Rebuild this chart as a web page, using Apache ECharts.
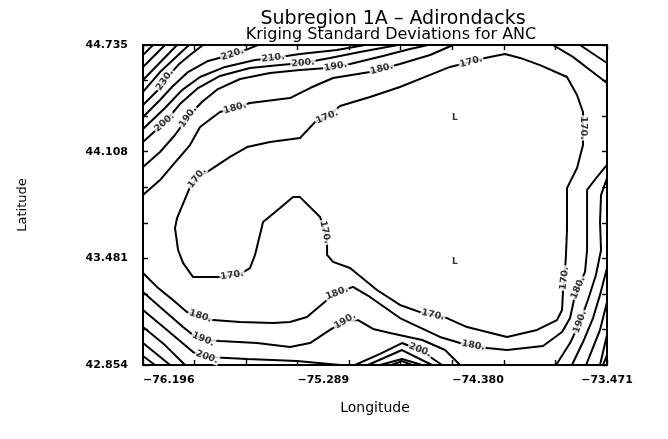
<!DOCTYPE html>
<html>
<head>
<meta charset="utf-8">
<script src="https://cdn.jsdelivr.net/npm/echarts@6/dist/echarts.min.js"></script>
<style>
  html, body { margin: 0; padding: 0; background: #fff; }
  #chart { width: 668px; height: 439px; }
</style>
</head>
<body>
<div id="chart"></div>
<script>
// tick labels
var xTickLabels = ['-76.196', '-75.289', '-74.380', '-73.471'];
var yTickLabels = ['42.854', '43.481', '44.108', '44.735'];

// contour lines, [longitude, latitude]
// upper-left corner
var c270 = [[-76.196, 44.676], [-76.137, 44.735]];
var c260 = [[-76.196, 44.606], [-76.067, 44.735]];
var c250 = [[-76.196, 44.529], [-75.996, 44.735]];
var c240 = [[-76.196, 44.459], [-76.096, 44.576], [-75.926, 44.735]];
var c230a = [[-76.196, 44.382], [-76.108, 44.470], [-76.067, 44.529], [-75.990, 44.617], [-75.920, 44.676], [-75.844, 44.735]];
var c220a = [[-76.196, 44.312], [-76.096, 44.412], [-76.026, 44.488], [-75.932, 44.576], [-75.814, 44.641], [-75.685, 44.676], [-75.580, 44.711], [-75.521, 44.735]];
var c210a = [[-76.196, 44.241], [-76.067, 44.365], [-75.967, 44.470], [-75.861, 44.547], [-75.714, 44.606], [-75.538, 44.647], [-75.432, 44.659], [-75.274, 44.682], [-75.057, 44.706], [-74.892, 44.735]];
var c200a = [[-76.196, 44.165], [-76.067, 44.282], [-75.979, 44.388], [-75.873, 44.482], [-75.744, 44.553], [-75.568, 44.600], [-75.391, 44.617], [-75.256, 44.629], [-75.098, 44.659], [-74.922, 44.694], [-74.699, 44.735]];
var c190a = [[-76.196, 44.018], [-76.096, 44.106], [-76.008, 44.206], [-75.932, 44.312], [-75.850, 44.400], [-75.756, 44.476], [-75.626, 44.535], [-75.450, 44.570], [-75.274, 44.588], [-75.115, 44.600], [-74.980, 44.623], [-74.787, 44.670], [-74.628, 44.711], [-74.522, 44.735]];
var c180a = [[-76.196, 43.853], [-76.096, 43.941], [-76.020, 44.030], [-75.920, 44.147], [-75.861, 44.253], [-75.744, 44.341], [-75.656, 44.365], [-75.568, 44.394], [-75.333, 44.423], [-75.215, 44.482], [-75.080, 44.541], [-74.863, 44.576], [-74.687, 44.623], [-74.510, 44.676], [-74.375, 44.735]];
// upper-right corner
var c180b = [[-73.788, 44.735], [-73.671, 44.665], [-73.571, 44.588], [-73.471, 44.512]];
var c190b = [[-73.630, 44.735], [-73.471, 44.629]];
// closed 170 loop
var c170 = [[-75.803, 44.000], [-75.685, 44.077], [-75.585, 44.135], [-75.450, 44.165], [-75.274, 44.188], [-75.186, 44.282], [-75.115, 44.312], [-75.039, 44.376], [-74.863, 44.429], [-74.687, 44.488], [-74.510, 44.559], [-74.393, 44.606], [-74.276, 44.635], [-74.187, 44.659], [-74.070, 44.682], [-73.982, 44.659], [-73.864, 44.617], [-73.706, 44.547], [-73.647, 44.441], [-73.612, 44.341], [-73.612, 44.247], [-73.612, 44.147], [-73.647, 44.012], [-73.706, 43.894], [-73.706, 43.648], [-73.712, 43.501], [-73.718, 43.395], [-73.729, 43.295], [-73.735, 43.177], [-73.765, 43.118], [-73.882, 43.060], [-74.058, 43.019], [-74.293, 43.077], [-74.411, 43.130], [-74.569, 43.165], [-74.687, 43.207], [-74.822, 43.295], [-74.980, 43.424], [-75.080, 43.460], [-75.115, 43.501], [-75.115, 43.577], [-75.127, 43.636], [-75.156, 43.724], [-75.274, 43.841], [-75.315, 43.841], [-75.391, 43.777], [-75.491, 43.695], [-75.538, 43.501], [-75.568, 43.424], [-75.626, 43.389], [-75.744, 43.371], [-75.902, 43.371], [-75.961, 43.454], [-75.990, 43.530], [-76.008, 43.659], [-75.996, 43.718], [-75.920, 43.900], [-75.879, 43.953], [-75.803, 44.000]];
// right side and bottom
var c180c = [[-73.471, 44.030], [-73.530, 43.959], [-73.588, 43.883], [-73.588, 43.530], [-73.600, 43.401], [-73.641, 43.307], [-73.665, 43.236], [-73.688, 43.130], [-73.735, 43.048], [-73.847, 42.966], [-74.058, 42.942], [-74.176, 42.954], [-74.334, 42.983], [-74.452, 43.019], [-74.587, 43.083], [-74.687, 43.130], [-74.863, 43.254], [-74.963, 43.313], [-75.057, 43.277], [-75.115, 43.236], [-75.233, 43.136], [-75.333, 43.107], [-75.432, 43.101], [-75.626, 43.107], [-75.785, 43.118], [-75.938, 43.166], [-76.020, 43.236], [-76.114, 43.313], [-76.196, 43.395]];
var c190c = [[-76.196, 43.283], [-76.096, 43.195], [-75.961, 43.077], [-75.902, 43.030], [-75.832, 43.001], [-75.744, 42.995], [-75.526, 42.983], [-75.333, 42.960], [-75.215, 42.983], [-75.098, 43.060], [-75.010, 43.113], [-74.933, 43.118], [-74.845, 43.066], [-74.745, 43.042], [-74.556, 43.001], [-74.422, 42.942], [-74.334, 42.854]];
var c190d = [[-73.471, 43.953], [-73.506, 43.853], [-73.512, 43.695], [-73.506, 43.530], [-73.536, 43.383], [-73.583, 43.236], [-73.630, 43.107], [-73.688, 42.983], [-73.770, 42.854]];
var c200b = [[-76.196, 43.177], [-76.055, 43.060], [-75.902, 42.930], [-75.820, 42.901], [-75.585, 42.889], [-75.292, 42.877], [-75.039, 42.854]];
var c200c = [[-74.951, 42.854], [-74.804, 42.919], [-74.675, 42.983], [-74.569, 42.942], [-74.440, 42.854]];
var c200d = [[-73.471, 43.424], [-73.512, 43.266], [-73.553, 43.130], [-73.612, 42.989], [-73.677, 42.854]];
var c210b = [[-76.196, 43.077], [-76.067, 42.971], [-75.949, 42.854]];
var c210c = [[-74.875, 42.854], [-74.675, 42.942], [-74.499, 42.854]];
var c210d = [[-73.471, 43.224], [-73.512, 43.060], [-73.559, 42.942], [-73.594, 42.854]];
var c220b = [[-76.196, 42.983], [-76.037, 42.854]];
var c220c = [[-74.804, 42.854], [-74.675, 42.889], [-74.557, 42.854]];
var c220d = [[-73.471, 43.030], [-73.512, 42.854]];
var c230b = [[-76.196, 42.907], [-76.126, 42.854]];
var c230c = [[-74.739, 42.854], [-74.675, 42.877], [-74.616, 42.854]];
var c230d = [[-73.471, 42.913], [-73.494, 42.854]];

var contours = [
  [270, c270], [260, c260], [250, c250], [240, c240], [230, c230a], [220, c220a],
  [210, c210a], [200, c200a], [190, c190a], [180, c180a], [180, c180b], [190, c190b],
  [170, c170], [180, c180c], [190, c190c], [190, c190d],
  [200, c200b], [200, c200c], [200, c200d], [210, c210b], [210, c210c], [210, c210d],
  [220, c220b], [220, c220c], [220, c220d], [230, c230b], [230, c230c], [230, c230d]
];

// contour labels: [longitude, latitude, level]
var labelPts = [
  [-76.067, 44.529, 230], [-75.673, 44.688, 220], [-75.432, 44.659, 210],
  [-75.256, 44.629, 200], [-76.073, 44.282, 200], [-75.932, 44.312, 190],
  [-75.063, 44.600, 190], [-75.656, 44.365, 180], [-74.792, 44.588, 180],
  [-75.879, 43.953, 170], [-75.115, 44.312, 170], [-74.264, 44.617, 170],
  [-73.612, 44.247, 170], [-75.673, 43.383, 170], [-75.121, 43.636, 170],
  [-74.493, 43.148, 170], [-73.729, 43.365, 170], [-75.861, 43.136, 180],
  [-75.057, 43.277, 180], [-74.258, 42.960, 180], [-73.641, 43.307, 180],
  [-75.844, 43.001, 190], [-75.010, 43.113, 190], [-73.630, 43.107, 190],
  [-75.820, 42.901, 200], [-74.569, 42.942, 200]
];

// local minimum marks
var lowPts = [[-74.364, 44.306], [-74.364, 43.460]];

var xMajor = xTickLabels.map(Number);
var yMajor = yTickLabels.map(Number);

function thirds(vals) {
  var out = [];
  for (var i = 0; i < vals.length - 1; i++) {
    var d = (vals[i + 1] - vals[i]) / 3;
    out.push(vals[i], vals[i] + d, vals[i] + 2 * d);
  }
  out.push(vals[vals.length - 1]);
  return out;
}

function pickLabel(list, v) {
  var best = list[0], bd = Infinity;
  list.forEach(function (s) {
    var d = Math.abs(Number(s) - v);
    if (d < bd) { bd = d; best = s; }
  });
  return best.replace('-', '\u2212');
}

var FONT = 'DejaVu Sans';
var chart = echarts.init(document.getElementById('chart'));

function frameAxis(pos, major, labels, isX) {
  return {
    type: 'value',
    position: pos,
    min: major[0],
    max: major[major.length - 1],
    splitLine: { show: false },
    axisLine: { show: true, onZero: false, lineStyle: { color: '#000', width: 2 } },
    axisTick: { show: true, inside: true, length: 5, customValues: thirds(major), lineStyle: { color: '#000', width: 1.4 } },
    axisLabel: labels ? {
      show: true,
      customValues: major,
      color: '#000',
      fontFamily: FONT,
      fontWeight: 'bold',
      fontSize: 11,
      margin: isX ? 10 : 15,
      align: isX ? 'left' : 'right',
      alignMaxLabel: isX ? 'center' : null,
      formatter: function (v) { return pickLabel(labels, v); }
    } : { show: false }
  };
}

var xBottom = frameAxis('bottom', xMajor, xTickLabels, true);
xBottom.name = 'Longitude';
xBottom.nameLocation = 'middle';
xBottom.nameGap = 36;
xBottom.nameTextStyle = { color: '#000', fontFamily: FONT, fontSize: 14 };

var yLeft = frameAxis('left', yMajor, yTickLabels, false);
yLeft.name = 'Latitude';
yLeft.nameLocation = 'middle';
yLeft.nameGap = 114;
yLeft.nameRotate = 90;
yLeft.nameTextStyle = { color: '#000', fontFamily: FONT, fontSize: 13 };

var series = contours.map(function (c) {
  return {
    type: 'line',
    data: c[1],
    symbol: 'none',
    smooth: false,
    silent: true,
    lineStyle: { color: '#000', width: 2 },
    z: 2
  };
});

var labelStyle = {
  show: true,
  position: 'inside',
  formatter: '{b}',
  color: '#000',
  fontFamily: FONT,
  fontWeight: 'bold',
  fontSize: 9.5,
  backgroundColor: '#fff',
  padding: [0, 1]
};

series.push({
  id: 'contourLabels',
  type: 'scatter',
  symbolSize: 0,
  silent: true,
  z: 5,
  label: labelStyle,
  data: labelPts.map(function (p) { return { name: p[2] + '.', value: [p[0], p[1]] }; })
});

series.push({
  type: 'scatter',
  symbolSize: 0,
  silent: true,
  z: 5,
  label: { show: true, position: 'inside', formatter: 'L', color: '#000', fontFamily: FONT, fontWeight: 'bold', fontSize: 9 },
  data: lowPts
});

chart.setOption({
  animation: false,
  backgroundColor: '#fff',
  title: [
    { text: 'Subregion 1A \u2013 Adirondacks', left: 388, top: 5, textAlign: 'center',
      textStyle: { color: '#000', fontFamily: FONT, fontWeight: 'normal', fontSize: 19 } },
    { text: 'Kriging Standard Deviations for ANC', left: 386, top: 22, textAlign: 'center',
      textStyle: { color: '#000', fontFamily: FONT, fontWeight: 'normal', fontSize: 16 } }
  ],
  grid: { left: 143, top: 45, right: 61, bottom: 74, outerBoundsMode: 'none' },
  xAxis: [xBottom, frameAxis('top', xMajor, null, true)],
  yAxis: [yLeft, frameAxis('right', yMajor, null, false)],
  series: series
});

// put every label on its line and turn it along the line
function placeLabels() {
  var finder = { xAxisIndex: 0, yAxisIndex: 0 };
  var data = labelPts.map(function (p) {
    var pt = chart.convertToPixel(finder, [p[0], p[1]]);
    var best = null, bd = Infinity;
    contours.forEach(function (c) {
      if (c[0] !== p[2]) return;
      var px = c[1].map(function (q) { return chart.convertToPixel(finder, q); });
      for (var i = 0; i < px.length - 1; i++) {
        var a = px[i], b = px[i + 1];
        var dx = b[0] - a[0], dy = b[1] - a[1];
        var L2 = dx * dx + dy * dy || 1;
        var t = ((pt[0] - a[0]) * dx + (pt[1] - a[1]) * dy) / L2;
        t = Math.max(0, Math.min(1, t));
        var qx = a[0] + t * dx, qy = a[1] + t * dy;
        var d = (qx - pt[0]) * (qx - pt[0]) + (qy - pt[1]) * (qy - pt[1]);
        if (d < bd) {
          bd = d;
          var ang = -Math.atan2(dy, dx) * 180 / Math.PI;
          while (ang >= 90) ang -= 180;
          while (ang < -90) ang += 180;
          best = { x: qx, y: qy, ang: ang };
        }
      }
    });
    if (!best) return { name: p[2] + '.', value: [p[0], p[1]] };
    return {
      name: p[2] + '.',
      value: chart.convertFromPixel(finder, [best.x, best.y]),
      label: { rotate: best.ang }
    };
  });
  chart.setOption({ series: [{ id: 'contourLabels', data: data }] });
}
placeLabels();
</script>
</body>
</html>
